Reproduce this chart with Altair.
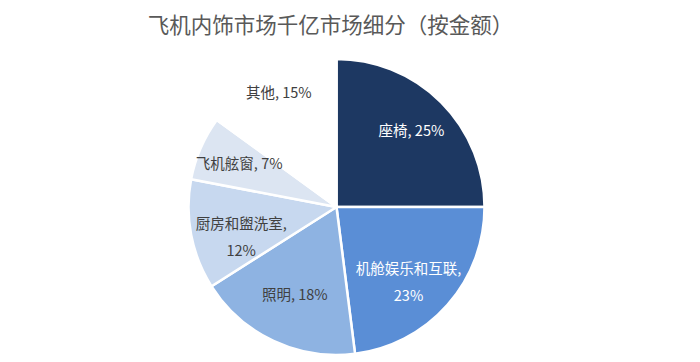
import altair as alt
import pandas as pd

categories = ["座椅", "机舱娱乐和互联", "照明", "厨房和盥洗室", "飞机舷窗", "其他"]
shares = [25, 23, 18, 12, 7, 15]
labels = ["座椅, 25%", "机舱娱乐和互联,\n23%", "照明, 18%", "厨房和盥洗室,\n12%", "飞机舷窗, 7%", "其他, 15%"]
colors = ["#1d3862", "#5a8ed6", "#8eb3e2", "#c7d8ef", "#dce5f2", "#ffffff"]
label_colors = ["#ffffff", "#ffffff", "#404040", "#404040", "#404040", "#404040"]
label_radius = [106, 96, 98, 97, 106, 127]

df = pd.DataFrame({
    "cat": categories,
    "share": shares,
    "label": labels,
    "order": list(range(len(categories))),
    "lcolor": label_colors,
    "lr": label_radius,
})

theta_scale = alt.Scale(domain=[0, 100])

base = alt.Chart(df).transform_window(
    cum="sum(share)", sort=[alt.SortField("order", order="ascending")],
    frame=[None, 0],
).transform_calculate(
    start="datum.cum - datum.share",
    mid="datum.cum - datum.share / 2",
)

arcs = base.mark_arc(outerRadius=148, stroke="white", strokeWidth=2.5).encode(
    theta=alt.Theta("start:Q", scale=theta_scale),
    theta2="cum:Q",
    color=alt.Color("cat:N", scale=alt.Scale(domain=categories, range=colors), legend=None),
)

text = base.mark_text(
    font="Noto Sans CJK SC", fontSize=14.5, lineBreak="\n", lineHeight=27,
    align="center", baseline="middle",
).encode(
    theta=alt.Theta("mid:Q", scale=theta_scale),
    text="label:N",
    radius=alt.Radius("lr:Q", scale=None),
    color=alt.Color("lcolor:N", scale=None),
)

chart = alt.layer(arcs, text).properties(
    width=657,
    height=294,
    title=alt.TitleParams(
        "飞机内饰市场千亿市场细分（按金额）",
        font="Noto Sans CJK SC", fontSize=21.5, fontWeight="normal", color="#595959",
        anchor="middle", dx=-6, offset=17,
    ),
    autosize=alt.AutoSizeParams(type="none"),
    padding={"top": 52, "left": 0, "right": 0, "bottom": 0},
).configure_view(stroke=None)

chart.save("out.html", embed_options={"renderer": "svg", "actions": False})
